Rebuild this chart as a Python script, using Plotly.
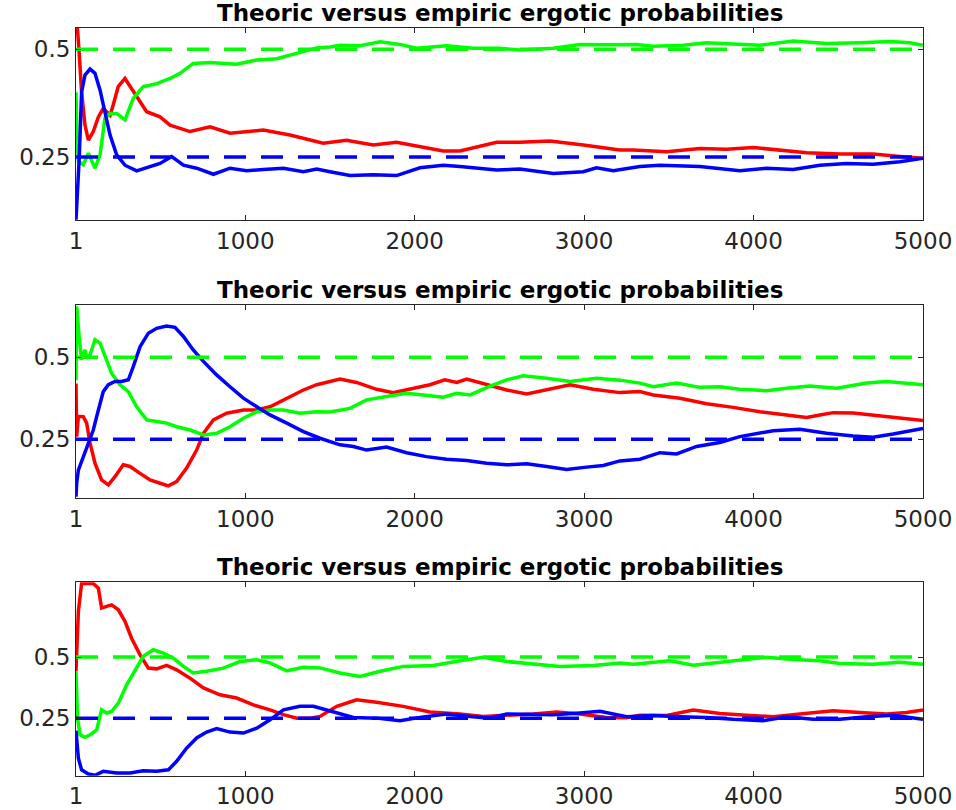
import plotly.graph_objects as go

TITLE = "Theoric versus empiric ergotic probabilities"
X_TICKS = [1, 1000, 2000, 3000, 4000, 5000]
X_TICK_LABELS = ["1", "1000", "2000", "3000", "4000", "5000"]
Y_TICKS = [0.25, 0.5]
Y_TICK_LABELS = ["0.25", "0.5"]
THEORY_GREEN = 0.5
THEORY_BLUE = 0.25
N_STEPS = 5000

# ---------------- Panel 1 ----------------
p1_red_x = [1, 8, 20, 34, 54, 74, 103, 133, 162, 202, 220, 250, 290, 359, 418, 497, 556, 674, 792, 910,
            1106, 1264, 1460, 1598, 1755, 1893, 2031, 2169, 2267, 2484, 2621, 2798, 2995, 3211, 3290,
            3487, 3683, 3840, 3998, 4155, 4313, 4510, 4706, 4864, 5000]
p1_red_y = [0.56, 0.555, 0.49, 0.401, 0.324, 0.289, 0.309, 0.343, 0.363, 0.347, 0.370, 0.413, 0.432,
            0.390, 0.355, 0.343, 0.324, 0.309, 0.320, 0.305, 0.3125, 0.301, 0.282, 0.289, 0.278, 0.284,
            0.274, 0.264, 0.264, 0.284, 0.284, 0.287, 0.278, 0.266, 0.266, 0.262, 0.270, 0.268, 0.272,
            0.266, 0.260, 0.257, 0.257, 0.251, 0.247]

p1_green_x = [1, 6, 15, 44, 74, 113, 143, 172, 202, 241, 290, 339, 398, 477, 556, 615, 693, 792, 949,
              1068, 1186, 1304, 1422, 1500, 1559, 1677, 1795, 1913, 2011, 2188, 2345, 2502, 2621, 2818,
              2975, 3132, 3309, 3408, 3585, 3723, 3880, 4037, 4234, 4431, 4628, 4805, 4923, 5000]
p1_green_y = [0.40, 0.30, 0.24, 0.232, 0.259, 0.224, 0.255, 0.340, 0.351, 0.351, 0.336, 0.386, 0.413,
              0.420, 0.432, 0.444, 0.467, 0.469, 0.465, 0.475, 0.478, 0.490, 0.503, 0.505, 0.509, 0.508,
              0.517, 0.511, 0.502, 0.508, 0.502, 0.502, 0.498, 0.502, 0.511, 0.510, 0.511, 0.507, 0.509,
              0.515, 0.513, 0.509, 0.519, 0.513, 0.515, 0.518, 0.515, 0.509]

p1_blue_x = [1, 20, 34, 54, 84, 113, 143, 172, 202, 241, 290, 359, 438, 497, 566, 635, 713, 812, 910,
             1008, 1106, 1225, 1343, 1422, 1500, 1618, 1755, 1893, 2031, 2169, 2267, 2484, 2621, 2818,
             2995, 3073, 3172, 3329, 3447, 3683, 3919, 4076, 4234, 4391, 4549, 4706, 4864, 5000]
p1_blue_y = [0.105, 0.247, 0.401, 0.440, 0.454, 0.444, 0.405, 0.355, 0.301, 0.255, 0.231, 0.218, 0.228,
             0.235, 0.251, 0.231, 0.224, 0.210, 0.224, 0.218, 0.221, 0.224, 0.216, 0.222, 0.216, 0.207,
             0.209, 0.207, 0.225, 0.231, 0.228, 0.220, 0.222, 0.212, 0.216, 0.225, 0.218, 0.228, 0.231,
             0.228, 0.218, 0.224, 0.221, 0.231, 0.235, 0.233, 0.239, 0.247]

# ---------------- Panel 2 ----------------
p2_red_x = [1, 5, 15, 25, 44, 64, 84, 113, 152, 192, 231, 280, 320, 379, 438, 497, 546, 595, 654, 713,
            753, 812, 890, 989, 1068, 1146, 1225, 1343, 1422, 1500, 1559, 1657, 1775, 1873, 1991, 2090,
            2178, 2248, 2307, 2425, 2543, 2661, 2779, 2917, 3054, 3211, 3329, 3408, 3565, 3723, 3880,
            4037, 4194, 4313, 4391, 4470, 4588, 4746, 4884, 5000]
p2_red_y = [0.42, 0.258, 0.32, 0.319, 0.319, 0.299, 0.238, 0.177, 0.126, 0.111, 0.136, 0.172, 0.167,
            0.146, 0.126, 0.116, 0.108, 0.121, 0.162, 0.217, 0.268, 0.309, 0.329, 0.339, 0.339, 0.349,
            0.370, 0.400, 0.416, 0.426, 0.433, 0.423, 0.402, 0.392, 0.405, 0.416, 0.431, 0.423, 0.433,
            0.416, 0.400, 0.388, 0.400, 0.416, 0.402, 0.392, 0.395, 0.385, 0.375, 0.358, 0.347, 0.334,
            0.324, 0.316, 0.324, 0.331, 0.330, 0.321, 0.314, 0.307]

p2_green_x = [1, 5, 20, 34, 54, 64, 84, 113, 143, 172, 211, 261, 310, 359, 418, 477, 536, 595, 674, 753,
              831, 910, 989, 1068, 1146, 1225, 1323, 1422, 1500, 1618, 1716, 1834, 1952, 2051, 2169,
              2248, 2327, 2445, 2543, 2641, 2779, 2917, 3073, 3211, 3329, 3408, 3546, 3683, 3801, 3919,
              4076, 4194, 4332, 4490, 4667, 4785, 4903, 5000]
p2_green_y = [0.43, 0.655, 0.56, 0.492, 0.522, 0.497, 0.507, 0.553, 0.543, 0.502, 0.451, 0.416, 0.395,
              0.349, 0.309, 0.304, 0.299, 0.288, 0.278, 0.263, 0.268, 0.288, 0.314, 0.334, 0.339, 0.339,
              0.329, 0.334, 0.333, 0.344, 0.370, 0.380, 0.390, 0.385, 0.378, 0.390, 0.385, 0.412, 0.431,
              0.443, 0.436, 0.426, 0.436, 0.430, 0.421, 0.410, 0.421, 0.408, 0.410, 0.402, 0.398, 0.405,
              0.412, 0.405, 0.421, 0.426, 0.421, 0.416]

p2_blue_x = [1, 5, 15, 44, 74, 103, 133, 162, 192, 231, 270, 310, 339, 379, 428, 477, 536, 585, 635, 693,
             753, 831, 910, 989, 1068, 1146, 1245, 1343, 1441, 1559, 1638, 1716, 1834, 1952, 2070, 2188,
             2307, 2425, 2543, 2661, 2779, 2897, 3014, 3113, 3211, 3329, 3447, 3546, 3664, 3801, 3919,
             4037, 4116, 4273, 4431, 4588, 4706, 4824, 5000]
p2_blue_y = [0.075, 0.116, 0.156, 0.197, 0.238, 0.278, 0.339, 0.395, 0.416, 0.426, 0.426, 0.431, 0.471,
             0.532, 0.573, 0.588, 0.595, 0.591, 0.563, 0.522, 0.487, 0.446, 0.410, 0.375, 0.349, 0.324,
             0.299, 0.273, 0.253, 0.233, 0.228, 0.217, 0.226, 0.209, 0.197, 0.189, 0.185, 0.177, 0.172,
             0.175, 0.167, 0.158, 0.165, 0.170, 0.184, 0.189, 0.209, 0.205, 0.228, 0.240, 0.258, 0.268,
             0.276, 0.280, 0.268, 0.260, 0.256, 0.266, 0.283]

# ---------------- Panel 3 ----------------
p3_red_x = [1, 15, 34, 103, 133, 152, 182, 211, 251, 290, 329, 379, 428, 477, 536, 595, 674, 753, 851,
            949, 1048, 1146, 1225, 1304, 1382, 1441, 1540, 1657, 1775, 1932, 2090, 2267, 2405, 2543,
            2700, 2838, 2975, 3132, 3250, 3329, 3487, 3644, 3801, 3959, 4116, 4273, 4470, 4628, 4785,
            4903, 5000]
p3_red_y = [0.442, 0.686, 0.80, 0.80, 0.781, 0.700, 0.707, 0.713, 0.693, 0.646, 0.577, 0.509, 0.455,
            0.452, 0.466, 0.448, 0.414, 0.374, 0.346, 0.333, 0.305, 0.285, 0.265, 0.251, 0.251, 0.258,
            0.299, 0.326, 0.316, 0.299, 0.276, 0.268, 0.258, 0.262, 0.268, 0.276, 0.268, 0.254, 0.253,
            0.263, 0.262, 0.284, 0.270, 0.263, 0.257, 0.268, 0.281, 0.274, 0.268, 0.274, 0.284]

p3_green_x = [1, 10, 25, 54, 84, 123, 152, 182, 211, 251, 300, 349, 398, 457, 516, 575, 635, 693, 772,
              870, 969, 1068, 1146, 1245, 1343, 1441, 1559, 1677, 1795, 1932, 2109, 2267, 2405, 2543,
              2700, 2857, 3054, 3211, 3290, 3506, 3644, 3801, 3959, 4076, 4234, 4391, 4510, 4706, 4864,
              5000]
p3_green_y = [0.442, 0.25, 0.183, 0.173, 0.183, 0.203, 0.285, 0.272, 0.278, 0.312, 0.387, 0.448, 0.503,
              0.530, 0.516, 0.496, 0.462, 0.435, 0.442, 0.455, 0.482, 0.489, 0.476, 0.444, 0.458, 0.456,
              0.435, 0.421, 0.442, 0.462, 0.466, 0.485, 0.499, 0.482, 0.471, 0.462, 0.466, 0.476, 0.471,
              0.485, 0.467, 0.479, 0.490, 0.499, 0.490, 0.485, 0.474, 0.471, 0.479, 0.471]

p3_blue_x = [1, 5, 15, 34, 74, 113, 162, 241, 320, 398, 477, 546, 595, 654, 713, 772, 831, 910, 989,
             1068, 1146, 1225, 1323, 1402, 1441, 1540, 1638, 1775, 1913, 2031, 2188, 2327, 2445, 2543,
             2700, 2818, 2975, 3094, 3251, 3408, 3565, 3723, 3880, 4056, 4194, 4352, 4510, 4667, 4824,
             5000]
p3_blue_y = [0.20, 0.16, 0.088, 0.040, 0.023, 0.018, 0.034, 0.027, 0.027, 0.036, 0.034, 0.040, 0.075,
             0.129, 0.170, 0.194, 0.208, 0.194, 0.190, 0.210, 0.244, 0.285, 0.299, 0.299, 0.292, 0.272,
             0.254, 0.251, 0.240, 0.254, 0.268, 0.258, 0.251, 0.268, 0.265, 0.265, 0.272, 0.279, 0.257,
             0.262, 0.257, 0.254, 0.246, 0.240, 0.257, 0.246, 0.246, 0.257, 0.263, 0.246]

panels = [
    dict(red=(p1_red_x, p1_red_y), green=(p1_green_x, p1_green_y), blue=(p1_blue_x, p1_blue_y),
         yrange=[0.104, 0.549], domain=[0.7284, 0.9654]),
    dict(red=(p2_red_x, p2_red_y), green=(p2_green_x, p2_green_y), blue=(p2_blue_x, p2_blue_y),
         yrange=[0.071, 0.659], domain=[0.3852, 0.6235]),
    dict(red=(p3_red_x, p3_red_y), green=(p3_green_x, p3_green_y), blue=(p3_blue_x, p3_blue_y),
         yrange=[0.016, 0.805], domain=[0.0423, 0.2811]),
]

COLORS = {"red": "#ff0000", "green": "#00ff00", "blue": "#0000ff"}
AX_COLOR = "#262626"
XDOM = [76 / 956, 923 / 956]

fig = go.Figure()
layout = dict(
    width=956, height=810, margin=dict(l=0, r=0, t=0, b=0, pad=0, autoexpand=False),
    paper_bgcolor="white", plot_bgcolor="white", showlegend=False,
    annotations=[],
)

for i, p in enumerate(panels):
    n = "" if i == 0 else str(i + 1)
    xa, ya = "x" + n, "y" + n
    for key in ["red", "green", "blue"]:
        xs, ys = p[key]
        fig.add_trace(go.Scatter(x=xs, y=ys, mode="lines", xaxis=xa, yaxis=ya,
                                 line=dict(color=COLORS[key], width=3.5), hoverinfo="skip"))
    for val, key in [(THEORY_GREEN, "green"), (THEORY_BLUE, "blue")]:
        fig.add_trace(go.Scatter(x=[1, N_STEPS], y=[val, val], mode="lines", xaxis=xa, yaxis=ya,
                                 line=dict(color=COLORS[key], width=3.5, dash="22px,15px"),
                                 hoverinfo="skip"))
    axcommon = dict(showline=True, mirror="ticks", linecolor=AX_COLOR, linewidth=1,
                    ticks="inside", ticklen=5, tickcolor=AX_COLOR, showgrid=False, zeroline=False,
                    automargin=False,
                    tickfont=dict(family="DejaVu Sans", size=23, color=AX_COLOR))
    layout["xaxis" + n] = dict(axcommon, domain=XDOM, range=[1, N_STEPS], anchor=ya,
                               tickvals=X_TICKS, ticktext=X_TICK_LABELS)
    layout["yaxis" + n] = dict(axcommon, domain=p["domain"], range=p["yrange"], anchor=xa,
                               tickvals=Y_TICKS, ticktext=Y_TICK_LABELS)
    layout["annotations"].append(dict(
        text="<b>" + TITLE + "</b>", xref="paper", yref="paper",
        x=(XDOM[0] + XDOM[1]) / 2, y=p["domain"][1], xanchor="center", yanchor="bottom",
        showarrow=False, yshift=0,
        font=dict(family="DejaVu Sans", size=23, color="#000000")))

fig.update_layout(**layout)
fig.write_html("out.html", config={"displayModeBar": False},
               post_script="document.body.style.margin='0';document.body.style.overflow='hidden';")
